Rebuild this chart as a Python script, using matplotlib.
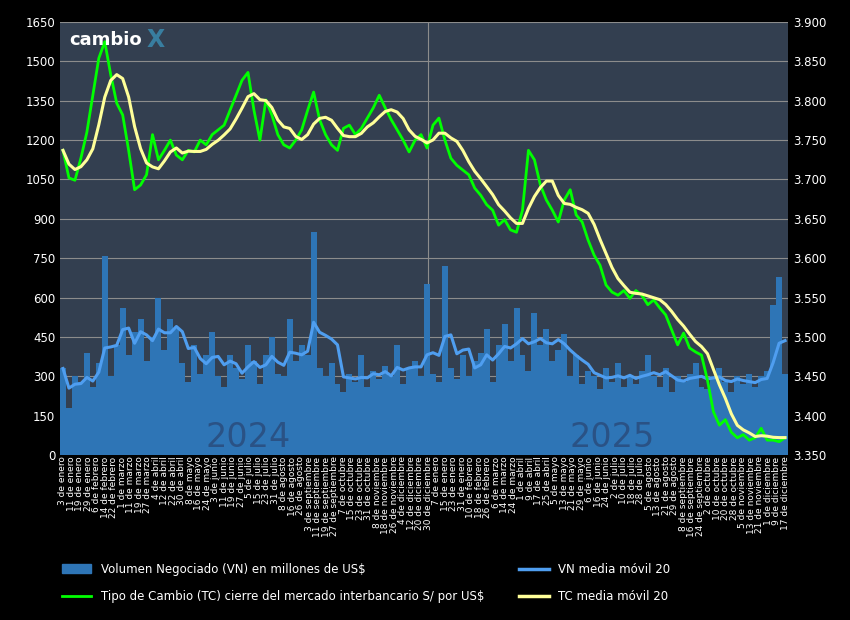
import numpy as np
import pandas as pd
import matplotlib
matplotlib.use("Agg")
import matplotlib.pyplot as plt
from matplotlib.patches import Patch
from matplotlib.lines import Line2D

tc = [3.737,3.702,3.699,3.727,3.760,3.807,3.854,3.875,3.833,3.797,
      3.782,3.737,3.687,3.693,3.706,3.757,3.725,3.737,3.750,3.731,
      3.725,3.737,3.735,3.750,3.744,3.757,3.763,3.769,3.788,3.807,
      3.826,3.836,3.788,3.750,3.801,3.782,3.757,3.744,3.740,3.750,
      3.763,3.788,3.811,3.776,3.757,3.744,3.737,3.765,3.769,3.757,
      3.765,3.778,3.791,3.807,3.791,3.776,3.763,3.750,3.735,3.750,
      3.757,3.740,3.769,3.778,3.750,3.727,3.718,3.712,3.706,3.689,
      3.680,3.668,3.661,3.642,3.649,3.636,3.633,3.661,3.737,3.725,
      3.693,3.674,3.661,3.646,3.674,3.687,3.655,3.646,3.623,3.604,
      3.591,3.566,3.557,3.553,3.559,3.549,3.559,3.553,3.541,3.547,
      3.537,3.528,3.509,3.490,3.505,3.486,3.481,3.477,3.445,3.405,
      3.388,3.395,3.379,3.372,3.376,3.369,3.372,3.384,3.369,3.369,
      3.367,3.372]
vol = [330,180,300,280,390,260,350,760,300,420,
       560,380,470,520,360,450,600,400,520,480,
       350,280,420,310,380,470,300,260,380,330,
       290,420,360,270,380,450,310,300,520,360,
       420,380,850,330,300,350,270,240,310,280,
       380,260,320,290,340,300,420,270,330,360,
       300,650,310,280,720,330,290,380,300,360,
       390,480,280,420,500,360,560,380,320,540,
       420,480,360,400,460,300,380,270,320,300,
       250,330,280,350,260,300,270,320,380,300,
       260,330,240,300,280,310,350,260,250,300,
       330,280,240,300,270,310,260,300,320,570,
       680,310]
year_labels = ["2024", "2025"]
meses = ["enero","febrero","marzo","abril","mayo","junio","julio","agosto",
         "septiembre","octubre","noviembre","diciembre"]

n = len(tc)
x = np.arange(n)
vol_ma = pd.Series(vol).rolling(5, min_periods=1).mean()
tc_ma = pd.Series(tc).rolling(5, min_periods=1).mean()

dates = pd.bdate_range("2024-01-03", "2025-12-19")[::6]
tick_pos = np.linspace(0, n - 1, len(dates))
tick_lab = [f"{d.day} de {meses[d.month-1]}" for d in dates]

fig = plt.figure(figsize=(8.5, 6.2), dpi=100, facecolor="black")
ax = fig.add_axes([0.0706, 0.266, 0.8565, 0.6985])
ax.set_facecolor("#333f50")
ax.bar(x, vol, width=1.0, color="#2e75b6", zorder=2)
ax.plot(x, vol_ma, color="#4f9ef0", lw=2.2, zorder=3)
ax.set_ylim(0, 1650)
ax.set_yticks(np.arange(0, 1651, 150))
ax.grid(axis="y", color="#8c8c8c", lw=0.8, zorder=0)
ax.set_axisbelow(True)
ax.set_xlim(-0.5, n - 0.5)
ax.set_xticks(tick_pos)
ax.set_xticklabels(tick_lab, rotation=90, fontsize=6.5, color="white")
ax.tick_params(axis="y", colors="white", labelsize=8.5, length=0)
ax.tick_params(axis="x", length=0, pad=1)
for s in ax.spines.values():
    s.set_visible(False)
ax.axvline(61.2, color="#8c8c8c", lw=0.8, zorder=1)
ax.text(31, 5, year_labels[0], fontsize=24, color="#2a5285", ha="center", va="bottom", zorder=4)
ax.text(92, 5, year_labels[1], fontsize=24, color="#2a5285", ha="center", va="bottom", zorder=4)

ax2 = ax.twinx()
ax2.plot(x, tc, color="#00ff00", lw=2, zorder=3)
ax2.plot(x, tc_ma, color="#ffff99", lw=2.2, zorder=4)
ax2.set_ylim(3.35, 3.90)
ax2.set_yticks(np.arange(3.35, 3.9001, 0.05))
ax2.set_yticklabels([f"{v:.3f}" for v in np.arange(3.35, 3.9001, 0.05)])
ax2.tick_params(axis="y", colors="white", labelsize=8.5, length=0)
for s in ax2.spines.values():
    s.set_visible(False)

fig.text(0.082, 0.935, "cambio", color="white", fontsize=13, fontweight="bold", va="center")
fig.text(0.172, 0.935, "X", color="#3a8fb5", fontsize=17, fontweight="bold", va="center", alpha=0.8)

handles = [Patch(color="#2e75b6"), Line2D([], [], color="#00ff00", lw=2),
           Line2D([], [], color="#4f9ef0", lw=2.5), Line2D([], [], color="#ffff99", lw=2.5)]
labels = ["Volumen Negociado (VN) en millones de US$",
          "Tipo de Cambio (TC) cierre del mercado interbancario S/ por US$",
          "VN media móvil 20", "TC media móvil 20"]
leg = fig.legend(handles, labels, ncol=2, loc="center left", bbox_to_anchor=(0.06, 0.06),
                 frameon=False, fontsize=8.5, labelcolor="white", columnspacing=3,
                 handlelength=2.5, labelspacing=1.2)
fig.savefig("out.png", dpi=100, facecolor="black")
